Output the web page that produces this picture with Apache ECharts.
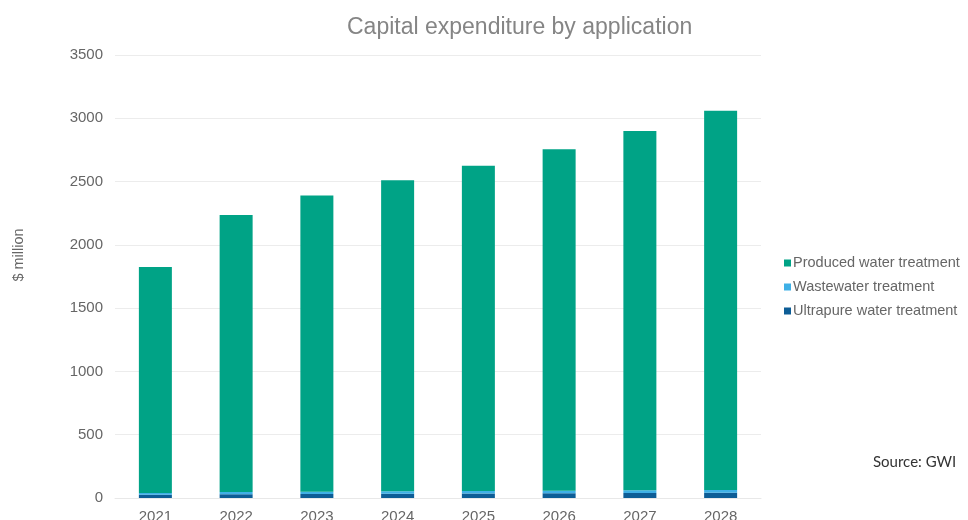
<!DOCTYPE html>
<html><head><meta charset="utf-8">
<script src="https://cdn.jsdelivr.net/npm/echarts@6/dist/echarts.min.js"></script>
<style>html,body{margin:0;padding:0;background:#fff}#c{width:968px;height:520px}</style>
</head><body><div id="c"></div>
<script>
const years = ['2021','2022','2023','2024','2025','2026','2027','2028'];
const ultrapure = [25, 30, 32, 34, 36, 38, 40, 42];
const wastewater = [15, 18, 18, 19, 20, 20, 21, 22];
const produced = [1785, 2187, 2340, 2457, 2569, 2697, 2839, 2996];
const yTicks = [0, 500, 1000, 1500, 2000, 2500, 3000, 3500];

const chart = echarts.init(document.getElementById('c'));
const font = 'Liberation Sans, Arial, sans-serif';
chart.setOption({
  animation: false,
  textStyle: {fontFamily: font},
  title: {
    text: 'Capital expenditure by application',
    left: 342, top: 11,
    textStyle: {fontFamily: font, fontSize: 23, fontWeight: 'normal', color: '#858585'}
  },
  legend: {
    orient: 'vertical', left: 779, top: 250, itemGap: 8,
    itemWidth: 7, itemHeight: 7, icon: 'rect',
    data: ['Produced water treatment','Wastewater treatment','Ultrapure water treatment'],
    textStyle: {fontFamily: font, fontSize: 14.5, color: '#666', padding: [0,0,0,-3], lineHeight: 16}
  },
  graphic: [
    {type: 'text', left: 873, top: 455, style: {text: 'Source: GWI', fontFamily: 'Lato, sans-serif', fontSize: 15, fill: '#333'}},
    {type: 'text', x: 19, y: 255, rotation: Math.PI / 2,
      style: {text: '$ million', fontFamily: font, fontSize: 14.5, fill: '#666', align: 'center', verticalAlign: 'middle'}}
  ],
  grid: {left: 115, right: 207, top: 55, bottom: 22, outerBoundsMode: 'none', containLabel: false},
  xAxis: {
    type: 'category', data: years,
    axisLine: {lineStyle: {color: '#e8e8e8'}},
    axisTick: {show: false},
    axisLabel: {color: '#666', fontSize: 15, margin: 11}
  },
  yAxis: {
    type: 'value', min: 0, max: 3500, interval: 500,
    axisLabel: {color: '#666', fontSize: 15, margin: 12,
      formatter: v => yTicks.includes(v) ? String(v) : ''},
    splitLine: {lineStyle: {color: '#ececec'}}
  },
  series: [
    {name: 'Ultrapure water treatment', type: 'bar', stack: 't', data: ultrapure, barWidth: 33, itemStyle: {color: '#0d5d96'}},
    {name: 'Wastewater treatment', type: 'bar', stack: 't', data: wastewater, itemStyle: {color: '#3fb0e6'}},
    {name: 'Produced water treatment', type: 'bar', stack: 't', data: produced, itemStyle: {color: '#00a386'}}
  ]
});
</script></body></html>
